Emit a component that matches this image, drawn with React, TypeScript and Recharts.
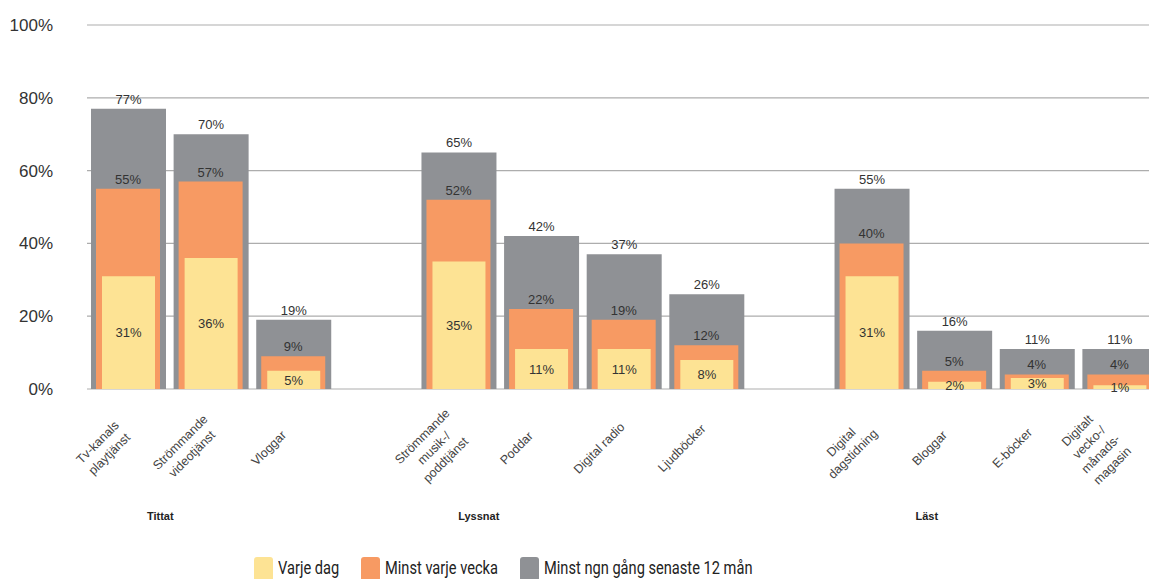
import React from 'react';
import { BarChart, Bar, XAxis, YAxis, CartesianGrid, LabelList, Legend } from 'recharts';

// Kategorier (tomma platser skiljer grupperna åt)
const categoryLines: string[][] = [
  ['Tv-kanals', 'playtjänst'],
  ['Strömmande', 'videotjänst'],
  ['Vloggar'],
  [],
  ['Strömmande', 'musik-/', 'poddtjänst'],
  ['Poddar'],
  ['Digital radio'],
  ['Ljudböcker'],
  [],
  ['Digital', 'dagstidning'],
  ['Bloggar'],
  ['E-böcker'],
  ['Digitalt', 'vecko-/', 'månads-', 'magasin'],
];

const varjeDag = [31, 36, 5, null, 35, 11, 11, 8, null, 31, 2, 3, 1];
const minstVecka = [55, 57, 9, null, 52, 22, 19, 12, null, 40, 5, 4, 4];
const minst12 = [77, 70, 19, null, 65, 42, 37, 26, null, 55, 16, 11, 11];

const groupNames = ['Tittat', 'Lyssnat', 'Läst'];
const groupStart = [0, 4, 9];

const yTicks = [0, 20, 40, 60, 80, 100];

const seriesNames = ['Varje dag', 'Minst varje vecka', 'Minst ngn gång senaste 12 mån'];

const COLORS = {
  day: '#fde394',
  week: '#f79a63',
  year: '#8f9195',
};

const data = categoryLines.map((lines, i) => ({
  key: 'c' + i,
  day: varjeDag[i],
  week: minstVecka[i],
  year: minst12[i],
}));

const FONT = "'Liberation Sans', Arial, sans-serif";
const LEGEND_FONT = '19px Roboto';

// small nudge of each group title relative to its first category
const groupShift = [32, 20, 55];

const CategoryTick = (props: any) => {
  const { x, y, index } = props;
  const lines = categoryLines[index] || [];
  const lh = 16.5;
  const g = groupStart.indexOf(index);
  return (
    <g>
      {lines.length > 0 && (
        <text
          transform={`translate(${x - 25},${y - 1}) rotate(-45)`}
          textAnchor="middle"
          fontSize={12.5}
          fill="#444"
          fontFamily={FONT}
        >
          {lines.map((l, k) => (
            <tspan key={k} x={0} y={(k - (lines.length - 1) / 2) * lh} dy="0.35em">
              {l}
            </tspan>
          ))}
        </text>
      )}
      {g >= 0 && (
        <text
          x={x + groupShift[g]}
          y={y + 67}
          dy="0.35em"
          textAnchor="middle"
          fontSize={11}
          fontWeight="bold"
          fill="#222"
          fontFamily={FONT}
        >
          {groupNames[g]}
        </text>
      )}
    </g>
  );
};

let measureCtx: CanvasRenderingContext2D | null = null;
const measure = (t: string) => {
  if (!measureCtx) measureCtx = document.createElement('canvas').getContext('2d');
  if (!measureCtx) return t.length * 9;
  measureCtx.font = LEGEND_FONT;
  return measureCtx.measureText(t).width;
};

// the legend type in the original is a condensed face, squeeze Roboto to match
const SQUEEZE = 0.77;

const LegendContent = () => {
  const cols = [COLORS.day, COLORS.week, COLORS.year];
  return (
    <div style={{ display: 'flex', alignItems: 'flex-start', whiteSpace: 'nowrap' }}>
      {seriesNames.map((n, i) => (
        <div key={n} style={{ display: 'flex', alignItems: 'flex-start', marginRight: 22 }}>
          <div style={{ width: 19, height: 24, background: cols[i], borderRadius: 3, marginRight: 5 }} />
          <div style={{ width: measure(n) * SQUEEZE, overflow: 'visible' }}>
            <span
              style={{
                display: 'inline-block',
                font: LEGEND_FONT,
                lineHeight: '22px',
                color: '#222',
                transform: `scaleX(${SQUEEZE})`,
                transformOrigin: 'left center',
              }}
            >
              {n}
            </span>
          </div>
        </div>
      ))}
    </div>
  );
};

const pct = (v: any) => (v == null ? '' : v + '%');

const labelStyle = { fontSize: 13, fill: '#333', fontFamily: FONT };

export default function App() {
  return (
    <div style={{ position: 'fixed', left: 0, top: 0, width: 1149, height: 579, overflow: 'hidden', background: '#fff' }}>
      <div style={{ position: 'absolute', left: 8, top: 8 }}>
        <BarChart
          width={1153}
          height={600}
          data={data}
          margin={{ top: 17, right: 0, left: 19, bottom: 119 }}
        >
          <CartesianGrid vertical={false} stroke="#adadad" strokeWidth={1.2} />
          <XAxis
            xAxisId="year"
            dataKey="key"
            interval={0}
            axisLine={false}
            tickLine={false}
            tickSize={0}
            tickMargin={0}
            height={100}
            tick={<CategoryTick />}
          />
          <XAxis xAxisId="week" dataKey="key" hide />
          <XAxis xAxisId="day" dataKey="key" hide />
          <YAxis
            domain={[0, 100]}
            ticks={yTicks}
            width={60}
            axisLine={false}
            tickLine={false}
            tickSize={0}
            tickMargin={34}
            tickFormatter={(v) => v + '%'}
            tick={{ fontSize: 17, fill: '#333', fontFamily: FONT }}
          />
          <Legend
            layout="horizontal"
            verticalAlign="middle"
            align="center"
            content={<LegendContent />}
            wrapperStyle={{ position: 'absolute', top: 549, left: 246, width: 'auto' }}
          />
          <Bar xAxisId="year" dataKey="year" name={seriesNames[2]} fill={COLORS.year} barSize={75} isAnimationActive={false}>
            <LabelList dataKey="year" position="top" offset={5} formatter={pct} style={labelStyle} />
          </Bar>
          <Bar xAxisId="week" dataKey="week" name={seriesNames[1]} fill={COLORS.week} barSize={64} isAnimationActive={false}>
            <LabelList dataKey="week" position="top" offset={5} formatter={pct} style={labelStyle} />
          </Bar>
          <Bar xAxisId="day" dataKey="day" name={seriesNames[0]} fill={COLORS.day} barSize={53} isAnimationActive={false}>
            <LabelList dataKey="day" position="center" formatter={pct} style={labelStyle} />
          </Bar>
        </BarChart>
      </div>
    </div>
  );
}
